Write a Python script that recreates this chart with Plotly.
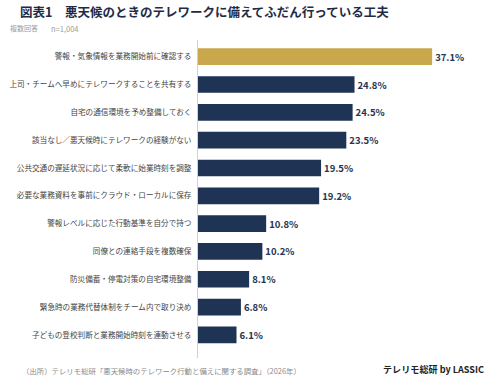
import plotly.graph_objects as go

categories = [
    "警報・気象情報を業務開始前に確認する",
    "上司・チームへ早めにテレワークすることを共有する",
    "自宅の通信環境を予め整備しておく",
    "該当なし／悪天候時にテレワークの経験がない",
    "公共交通の遅延状況に応じて柔軟に始業時刻を調整",
    "必要な業務資料を事前にクラウド・ローカルに保存",
    "警報レベルに応じた行動基準を自分で持つ",
    "同僚との連絡手段を複数確保",
    "防災備蓄・停電対策の自宅環境整備",
    "緊急時の業務代替体制をチーム内で取り決め",
    "子どもの登校判断と業務開始時刻を連動させる",
]
values = [37.1, 24.8, 24.5, 23.5, 19.5, 19.2, 10.8, 10.2, 8.1, 6.8, 6.1]
value_labels = [f"{v:.1f}%" for v in values]

GOLD = "#C9A84C"
NAVY = "#1F3354"
colors = [GOLD] + [NAVY] * (len(values) - 1)

FONT = "Noto Sans CJK JP"

fig = go.Figure(go.Bar(
    x=values,
    y=categories,
    orientation="h",
    marker=dict(color=colors, line=dict(width=0)),
    width=0.6,
    text=value_labels,
    textposition="outside",
    textfont=dict(family=FONT, size=9.5, color="#27344F", weight="bold"),
    cliponaxis=False,
    hoverinfo="skip",
))

L, R, T, B = 198, 20, 40, 23
W, H = 490, 381

fig.update_layout(
    width=W, height=H,
    margin=dict(l=L, r=R, t=T, b=B, autoexpand=False),
    paper_bgcolor="white", plot_bgcolor="white",
    showlegend=False,
    font=dict(family=FONT, color="#333333"),
    xaxis=dict(range=[0, 43.1], showgrid=False, zeroline=False,
               showticklabels=False, showline=False, fixedrange=True,
               automargin=False),
    yaxis=dict(range=[10.83, -0.6], showgrid=False, zeroline=False,
               showline=True, linecolor="#D0D0D0", linewidth=1,
               ticks="", ticklabelstandoff=4, automargin=False,
               tickfont=dict(family=FONT, size=7.6, color="#444444")),
)

pw = W - L - R
ph = H - T - B

def ann(text, cx, cy, size, color):
    fig.add_annotation(
        text=text, x=(cx - L) / pw, y=((H - cy) - B) / ph,
        xref="paper", yref="paper", showarrow=False,
        xanchor="center", yanchor="middle",
        font=dict(family=FONT, size=size, color=color))

ann("<b>図表1　悪天候のときのテレワークに備えてふだん行っている工夫</b>", 204.5, 11.5, 12.5, "#1F2B45")
ann("複数回答", 24, 28, 7, "#9A9A9A")
ann("n=1,004", 64, 28, 7.5, "#9A9A9A")
ann("（出所）テレリモ総研「悪天候時のテレワーク行動と備えに関する調査」（2026年）", 161, 370.5, 7.4, "#8A8A8A")
ann("<b>テレリモ総研 by LASSIC</b>", 433, 369, 9.1, "#222222")

fig.write_html("out.html")
